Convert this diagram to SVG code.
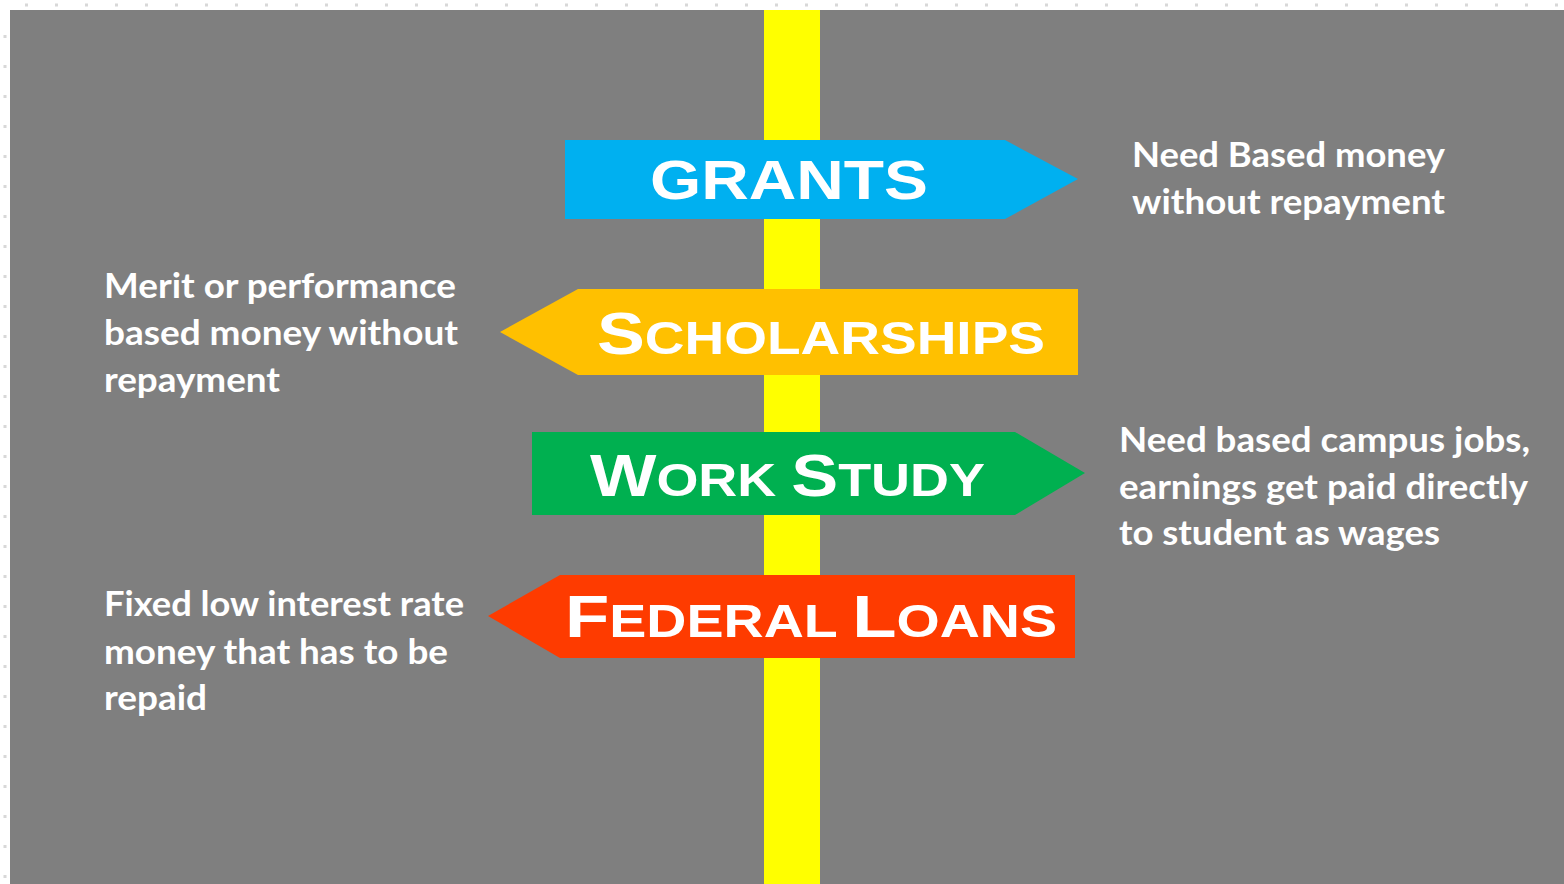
<svg xmlns="http://www.w3.org/2000/svg" width="1564" height="884" viewBox="0 0 1564 884">
<style>
.sign{font-family:"Liberation Sans",Arial,sans-serif;font-weight:bold;fill:#ffffff}
.note{font-family:Lato,"Open Sans","Liberation Sans",sans-serif;font-weight:bold;font-size:35px;fill:#ffffff}
</style>
<rect x="0" y="0" width="1564" height="884" fill="#ffffff"/>
<line x1="25" y1="5" x2="1564" y2="5" stroke="#d8d8d8" stroke-width="3" stroke-dasharray="3 27"/>
<line x1="5" y1="35" x2="5" y2="884" stroke="#d8d8d8" stroke-width="3" stroke-dasharray="3 27"/>
<rect x="10" y="10" width="1554" height="874" fill="#7f7f7f"/>
<rect id="pole" x="764" y="10" width="56" height="874" fill="#ffff00"/>
<g id="grants">
<polygon points="565,140 1005,140 1078,179 1005,219 565,219" fill="#00b0f0"/>
<text class="sign" x="650" y="199" font-size="56" textLength="278" lengthAdjust="spacingAndGlyphs">GRANTS</text>
</g>
<g id="scholarships">
<polygon points="500,332 578,289 1078,289 1078,375 578,375" fill="#ffc000"/>
<text class="sign" x="597" y="354" font-size="46" textLength="448" lengthAdjust="spacingAndGlyphs"><tspan font-size="60">S</tspan>CHOLARSHIPS</text>
</g>
<g id="workstudy">
<polygon points="532,432 1015,432 1085,473 1015,515 532,515" fill="#00b050"/>
<text class="sign" x="590" y="496" font-size="46" textLength="395" lengthAdjust="spacingAndGlyphs"><tspan font-size="60">W</tspan>ORK <tspan font-size="60">S</tspan>TUDY</text>
</g>
<g id="federalloans">
<polygon points="488,616 560,575 1075,575 1075,658 560,658" fill="#fe3b00"/>
<text class="sign" x="565" y="637" font-size="46" textLength="492" lengthAdjust="spacingAndGlyphs"><tspan font-size="60">F</tspan>EDERAL <tspan font-size="60">L</tspan>OANS</text>
</g>
<g id="note-grants">
<text class="note" x="1132" y="167" textLength="313" lengthAdjust="spacingAndGlyphs">Need Based money</text>
<text class="note" x="1132" y="214" textLength="313" lengthAdjust="spacingAndGlyphs">without repayment</text>
</g>
<g id="note-scholarships">
<text class="note" x="104" y="298" textLength="352" lengthAdjust="spacingAndGlyphs">Merit or performance</text>
<text class="note" x="104" y="345" textLength="354" lengthAdjust="spacingAndGlyphs">based money without</text>
<text class="note" x="104" y="392" textLength="176" lengthAdjust="spacingAndGlyphs">repayment</text>
</g>
<g id="note-workstudy">
<text class="note" x="1119" y="452" textLength="411" lengthAdjust="spacingAndGlyphs">Need based campus jobs,</text>
<text class="note" x="1119" y="499" textLength="409" lengthAdjust="spacingAndGlyphs">earnings get paid directly</text>
<text class="note" x="1119" y="545" textLength="321" lengthAdjust="spacingAndGlyphs">to student as wages</text>
</g>
<g id="note-loans">
<text class="note" x="104" y="616" textLength="360" lengthAdjust="spacingAndGlyphs">Fixed low interest rate</text>
<text class="note" x="104" y="664" textLength="344" lengthAdjust="spacingAndGlyphs">money that has to be</text>
<text class="note" x="104" y="710" textLength="103" lengthAdjust="spacingAndGlyphs">repaid</text>
</g>
</svg>
